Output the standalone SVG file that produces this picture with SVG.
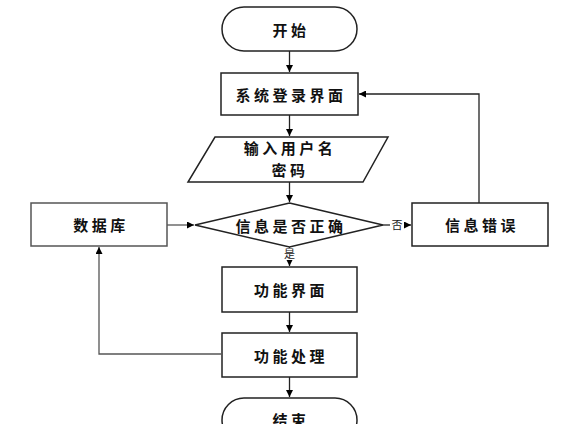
<svg xmlns="http://www.w3.org/2000/svg" width="570" height="424" viewBox="0 0 570 424">
<defs>
<marker id="ah" viewBox="0 0 10 10" refX="10" refY="5" markerWidth="7" markerHeight="7" markerUnits="userSpaceOnUse" orient="auto"><path d="M0,0 L10,5 L0,10 z" fill="#000"/></marker>
<style>
.s{fill:#fff;stroke:#222;stroke-width:1.5}
.t{font-family:"Noto Sans CJK SC","Noto Sans CJK JP",sans-serif;font-size:15px;font-weight:bold;fill:#111;text-anchor:middle;dominant-baseline:central;letter-spacing:3.5px}
.l{font-family:"Noto Sans CJK SC",sans-serif;font-size:11px;fill:#222;text-anchor:middle;dominant-baseline:central}
.c{fill:none;stroke:#222;stroke-width:1.3;marker-end:url(#ah)}
.g{stroke:#555}
</style>
</defs>
<rect width="570" height="424" fill="#fff"/>
<g id="connectors">
<path class="c" d="M289.5,51 V72"/>
<path class="c" d="M289.5,115 V136"/>
<path class="c" d="M289.5,182 V202"/>
<path class="c" d="M383,225 H411"/>
<path class="c" d="M479,203 V94 H359"/>
<path class="c g" d="M167,225 H194"/>
<path class="c" d="M289.5,247 V266"/>
<path class="c" d="M289.5,312 V332"/>
<path class="c g" d="M221,354 H99 V247"/>
<path class="c" d="M289.5,377 V397"/>
<rect x="390" y="218" width="14" height="14" fill="#fff"/>
<text class="l" x="397" y="224">否</text>
<rect x="283" y="248" width="13" height="12" fill="#fff"/>
<text class="l" x="289.5" y="253">是</text>
</g>
<g id="start"><rect class="s" x="222" y="7" width="135" height="44" rx="22"/><text class="t" x="291" y="29">开始</text></g>
<g id="login"><rect class="s" x="221" y="73" width="137" height="42"/><text class="t" x="291" y="94">系统登录界面</text></g>
<g id="input"><polygon class="s" points="215,137 388,137 363,182 188,182"/><text class="t" x="290" y="147.5">输入用户名</text><text class="t" x="290" y="169.5">密码</text></g>
<g id="check"><polygon class="s" points="289.5,203 383,225 289.5,247 195,225"/><text class="t" x="291" y="225">信息是否正确</text></g>
<g id="error"><rect class="s" x="412" y="203" width="136" height="43"/><text class="t" x="482" y="224.5">信息错误</text></g>
<g id="db"><rect class="s g" x="31" y="203" width="136" height="43"/><text class="t" x="101" y="224.5">数据库</text></g>
<g id="func"><rect class="s" x="222" y="267" width="135" height="45"/><text class="t" x="291" y="289.5">功能界面</text></g>
<g id="proc"><rect class="s" x="222" y="333" width="135" height="44"/><text class="t" x="291" y="355">功能处理</text></g>
<g id="end"><rect class="s" x="222" y="398" width="135" height="44" rx="22"/><text class="t" x="291" y="419">结束</text></g>
</svg>
